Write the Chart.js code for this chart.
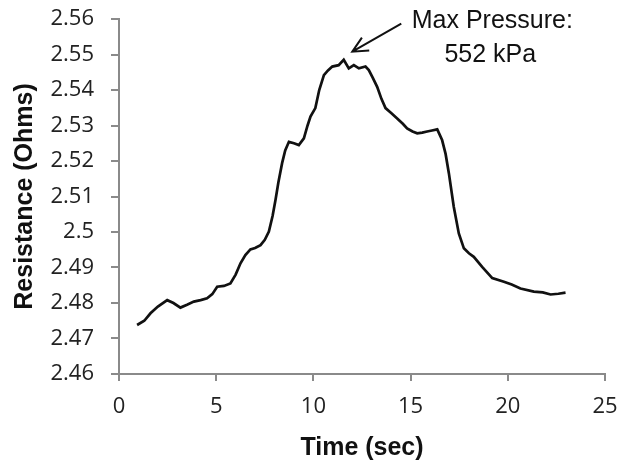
<!DOCTYPE html>
<html>
<head>
<meta charset="utf-8">
<script src="https://cdn.jsdelivr.net/npm/chart.js@4"></script>
<style>
  html, body { margin: 0; padding: 0; background: #fff; }
  #wrap { width: 619px; height: 463px; }
</style>
</head>
<body>
<div id="wrap"><canvas id="chart"></canvas></div>
<script>
// data
const timeSec = [0.93, 1.3, 1.62, 2.0, 2.48, 2.8, 3.16, 3.5, 3.85, 4.2, 4.53, 4.8, 5.05, 5.4, 5.73, 6.0, 6.25, 6.5, 6.76, 7.0,
  7.28, 7.5, 7.71, 7.9, 8.05, 8.2, 8.39, 8.55, 8.74, 9.0, 9.25, 9.51, 9.7, 9.85, 10.1, 10.3, 10.54, 10.75, 10.97, 11.3,
  11.56, 11.82, 12.08, 12.34, 12.68, 12.85, 13.05, 13.28, 13.5, 13.71, 14.0, 14.31, 14.6, 14.82, 15.1, 15.34, 15.6, 15.85,
  16.1, 16.37, 16.62, 16.8, 16.97, 17.22, 17.48, 17.74, 18.0, 18.25, 18.68, 19.2, 19.8, 20.2, 20.65, 21.34, 21.8, 22.2,
  22.6, 22.97];
const resistance = [2.4738, 2.4750, 2.4771, 2.4790, 2.4808, 2.4800, 2.4787, 2.4795, 2.4804, 2.4808, 2.4813, 2.4825, 2.4846,
  2.4848, 2.4855, 2.4880, 2.4912, 2.4935, 2.4951, 2.4955, 2.4963, 2.4978, 2.5001, 2.5045, 2.5090, 2.5140, 2.5194, 2.5230,
  2.5254, 2.5250, 2.5245, 2.5264, 2.5300, 2.5325, 2.5349, 2.5400, 2.5442, 2.5455, 2.5466, 2.5470, 2.5485, 2.5461, 2.5470,
  2.5461, 2.5466, 2.5456, 2.5435, 2.5409, 2.5375, 2.5349, 2.5335, 2.5320, 2.5305, 2.5292, 2.5283, 2.5278, 2.5280, 2.5283,
  2.5286, 2.5289, 2.5259, 2.5220, 2.5165, 2.5071, 2.4996, 2.4954, 2.4940, 2.4930, 2.4902, 2.4870, 2.4860, 2.4852, 2.4841,
  2.4832, 2.4830, 2.4824, 2.4826, 2.4829];
const xTicks = [0, 5, 10, 15, 20, 25];
const yTicks = [2.46, 2.47, 2.48, 2.49, 2.5, 2.51, 2.52, 2.53, 2.54, 2.55, 2.56];
const noteLines = ['Max Pressure:', '552 kPa'];
const notePoint = { x: 12.0, y: 2.5508 };

const axisGrey = '#8a8a8a';
const tickFont = { family: 'Open Sans', size: 22 };
const titleFont = { family: 'Liberation Sans', size: 25, weight: 'bold' };

// arrow + text label for the peak
const notePlugin = {
  id: 'note',
  afterDraw(chart) {
    const { ctx, scales: { x, y } } = chart;
    const tipX = x.getPixelForValue(notePoint.x);
    const tipY = y.getPixelForValue(notePoint.y);
    const tailX = tipX + 49, tailY = tipY - 28;
    ctx.save();
    ctx.strokeStyle = '#111';
    ctx.lineWidth = 2;
    ctx.beginPath();
    ctx.moveTo(tailX, tailY);
    ctx.lineTo(tipX, tipY);
    const ang = Math.atan2(tipY - tailY, tipX - tailX);
    const len = 17;
    ctx.moveTo(tipX - len * Math.cos(ang - 0.45), tipY - len * Math.sin(ang - 0.45));
    ctx.lineTo(tipX, tipY);
    ctx.lineTo(tipX - len * Math.cos(ang + 0.45), tipY - len * Math.sin(ang + 0.45));
    ctx.stroke();
    ctx.fillStyle = '#111';
    ctx.font = '25px "Liberation Sans"';
    ctx.textAlign = 'center';
    ctx.textBaseline = 'middle';
    ctx.fillText(noteLines[0], tipX + 140, tipY - 31);
    ctx.fillText(noteLines[1], tipX + 138, tipY + 3);
    ctx.restore();
  }
};

const chart = new Chart(document.getElementById('chart'), {
  type: 'scatter',
  data: {
    datasets: [{
      data: timeSec.map((t, i) => ({ x: t, y: resistance[i] })),
      showLine: true,
      borderColor: '#111',
      borderWidth: 2.7,
      pointRadius: 0,
      tension: 0
    }]
  },
  options: {
    responsive: true,
    maintainAspectRatio: false,
    animation: false,
    layout: { padding: 0 },
    plugins: { legend: { display: false }, tooltip: { enabled: false } },
    scales: {
      x: {
        type: 'linear',
        min: 0, max: 25,
        afterBuildTicks: s => { s.ticks = xTicks.map(v => ({ value: v })); },
        // pin the plot box to where it sits in the picture
        afterFit: s => { s.height = 89; s.paddingLeft = 0; s.paddingRight = 14; },
        ticks: { color: '#222', font: tickFont, padding: 13, maxRotation: 0 },
        grid: { drawOnChartArea: false, color: axisGrey, tickLength: 7, lineWidth: 2 },
        border: { color: axisGrey, width: 2 },
        title: { display: true, text: 'Time (sec)', color: '#111', font: titleFont, padding: 0 }
      },
      y: {
        min: 2.46, max: 2.56,
        afterBuildTicks: s => { s.ticks = yTicks.map(v => ({ value: v })); },
        afterFit: s => { s.width = 119; s.paddingTop = 19; s.paddingBottom = 0; },
        ticks: { color: '#222', font: tickFont, padding: 17, callback: v => String(+v.toFixed(2)) },
        grid: { drawOnChartArea: false, color: axisGrey, tickLength: 8, lineWidth: 2 },
        border: { color: axisGrey, width: 2 },
        title: { display: true, text: 'Resistance (Ohms)', color: '#111', font: titleFont, padding: { top: 10, bottom: 0 } }
      }
    }
  },
  plugins: [notePlugin]
});
</script>
</body>
</html>
